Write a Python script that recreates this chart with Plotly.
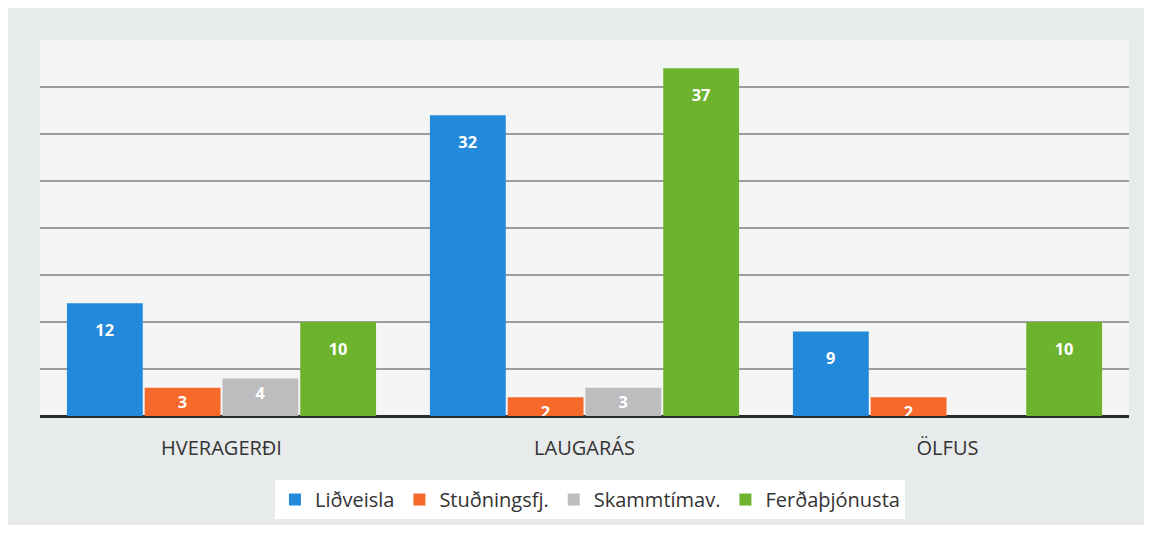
import plotly.graph_objects as go

categories = ["HVERAGERÐI", "LAUGARÁS", "ÖLFUS"]
series_names = ["Liðveisla", "Stuðningsfj.", "Skammtímav.", "Ferðaþjónusta"]
lidveisla = [12, 32, 9]
studningsfj = [3, 2, 2]
skammtimav = [4, 3, 0]
ferdathjonusta = [10, 37, 10]

colors = ["#2389db", "#f7692a", "#bdbcbf", "#6db32e"]

# a small blank first line pushes the value label down from the bar top like in the original
pad = "<span style='font-size:8px'>&nbsp;</span><br>"

fig = go.Figure()
for name, vals, col in zip(series_names, [lidveisla, studningsfj, skammtimav, ferdathjonusta], colors):
    labels = [(pad + str(v)) if v >= 5 else str(v) for v in vals]
    fig.add_bar(name=name, x=categories, y=vals, marker_color=col, marker_line_width=0,
                text=labels, textposition="inside", insidetextanchor="end", textangle=0,
                textfont=dict(color="white", size=17, family="Open Sans", weight="bold"))

# page has 8px body margin, so figure is 1136x517 placed at (8, 8)
fig.update_layout(
    barmode="group", bargap=0.143, bargroupgap=0.025,
    width=1136, height=517,
    margin=dict(l=32, r=15, t=32, b=109),
    paper_bgcolor="#e8ebeb", plot_bgcolor="#f4f6f6",
    font=dict(family="Open Sans", color="#333333"),
    uniformtext=dict(minsize=16, mode="show"),
    legend=dict(orientation="h", x=0.505, xanchor="center", yref="container", y=0.087, yanchor="top",
                bgcolor="white", font=dict(size=20, color="#333333"),
                entrywidth=0, itemwidth=30, tracegroupgap=0),
)
fig.update_xaxes(tickfont=dict(size=20, color="#333333"), showline=False, ticks="",
                 ticklabelstandoff=18, automargin=False)
fig.update_yaxes(range=[0, 40], dtick=5, showticklabels=False, gridcolor="#9c9e9e", gridwidth=1.5,
                 zeroline=True, zerolinecolor="#2b2b2b", zerolinewidth=3, automargin=False)

fig.write_html("out.html")
